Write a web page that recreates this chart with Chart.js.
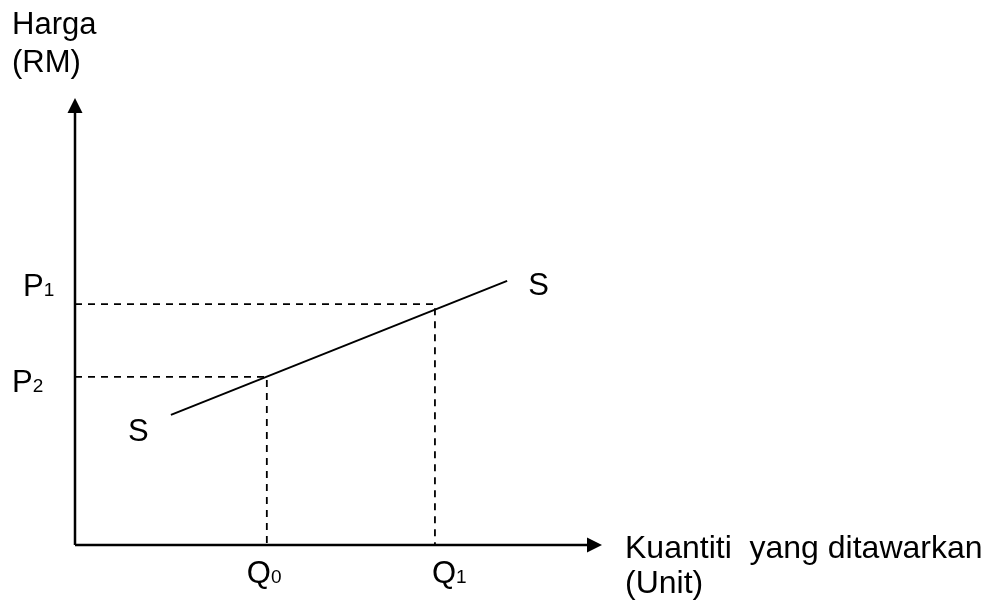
<!DOCTYPE html>
<html>
<head>
<meta charset="utf-8">
<title>Keluk penawaran</title>
<script src="https://cdn.jsdelivr.net/npm/chart.js@4/dist/chart.umd.min.js"></script>
<style>
  html, body { margin: 0; padding: 0; background: #fff; }
  #wrap { width: 983px; height: 604px; position: relative; }
</style>
</head>
<body>
<div id="wrap"><canvas id="supplyChart"></canvas></div>
<script>
// Values (axis units 0..10)
const quantityLabels = [['Q', '0'], ['Q', '1']];
const quantities = [3.64, 6.83];
const priceLabels = [['P', '2'], ['P', '1']];
const prices = [3.76, 5.39];
const supplyX = [1.82, 8.2];
const supplyY = [2.91, 5.91];
const yTitle = ['Harga', '(RM)'];
const xTitle = ['Kuantiti  yang ditawarkan', '(Unit)'];

const FONT = '"Liberation Sans", Arial, sans-serif';

// dashed guide lines: from the y axis to the curve, then down to the x axis
const guides = quantities.map((q, i) => ({
    label: 'guide ' + i,
    data: [{ x: 0, y: prices[i] }, { x: q, y: prices[i] }, { x: q, y: 0 }],
    showLine: true,
    borderColor: '#000',
    borderWidth: 1.8,
    borderDash: [7, 6],
    pointRadius: 0,
    fill: false
}));

// axes with arrow heads, plus all the text
const sketchPlugin = {
    id: 'sketch',
    afterDatasetsDraw(chart) {
        const { ctx, chartArea: a, scales } = chart;
        const xs = scales.x, ys = scales.y;
        const x0 = xs.getPixelForValue(0);
        const y0 = ys.getPixelForValue(0);

        ctx.save();
        ctx.strokeStyle = '#000';
        ctx.fillStyle = '#000';
        ctx.lineWidth = 2.5;
        ctx.beginPath();
        ctx.moveTo(x0, y0);
        ctx.lineTo(x0, a.top + 10);
        ctx.moveTo(x0, y0);
        ctx.lineTo(a.right - 10, y0);
        ctx.stroke();

        // arrow heads
        ctx.beginPath();
        ctx.moveTo(x0, a.top);
        ctx.lineTo(x0 - 7.5, a.top + 15);
        ctx.lineTo(x0 + 7.5, a.top + 15);
        ctx.closePath();
        ctx.fill();
        ctx.beginPath();
        ctx.moveTo(a.right, y0);
        ctx.lineTo(a.right - 15, y0 - 7.5);
        ctx.lineTo(a.right - 15, y0 + 7.5);
        ctx.closePath();
        ctx.fill();

        ctx.textBaseline = 'alphabetic';
        ctx.textAlign = 'left';

        const sub = (parts, x, y) => {
            ctx.font = '31px ' + FONT;
            ctx.fillText(parts[0], x, y);
            const w = ctx.measureText(parts[0]).width;
            ctx.font = '19px ' + FONT;
            ctx.fillText(parts[1], x + w, y);
        };

        // price labels (P2 lower, P1 upper)
        const pOffsets = [[12, 15], [23, -8]];
        prices.forEach((p, i) => {
            sub(priceLabels[i], pOffsets[i][0], ys.getPixelForValue(p) + pOffsets[i][1]);
        });

        // quantity labels
        const qOffsets = [-20, -3];
        quantities.forEach((q, i) => {
            sub(quantityLabels[i], xs.getPixelForValue(q) + qOffsets[i], y0 + 38);
        });

        // S labels at both ends of the curve
        ctx.font = '31px ' + FONT;
        ctx.fillText('S', xs.getPixelForValue(supplyX[0]) - 43, ys.getPixelForValue(supplyY[0]) + 26);
        ctx.fillText('S', xs.getPixelForValue(supplyX[1]) + 21, ys.getPixelForValue(supplyY[1]) + 14);

        // axis titles
        ctx.fillText(yTitle[0], 12, 34);
        ctx.fillText(yTitle[1], 12, 72);
        ctx.font = '32px ' + FONT;
        ctx.fillText(xTitle[0], a.right + 23, y0 + 13);
        ctx.fillText(xTitle[1], a.right + 23, y0 + 48);
        ctx.restore();
    }
};

new Chart(document.getElementById('supplyChart'), {
    type: 'scatter',
    data: {
        datasets: [
            {
                label: 'S',
                data: supplyX.map((x, i) => ({ x: x, y: supplyY[i] })),
                showLine: true,
                borderColor: '#000',
                borderWidth: 2,
                pointRadius: 0,
                fill: false
            },
            ...guides
        ]
    },
    options: {
        responsive: true,
        maintainAspectRatio: false,
        animation: false,
        layout: {
            padding: { left: 75, top: 98, right: 381, bottom: 59 }
        },
        scales: {
            x: { type: 'linear', min: 0, max: 10, display: false },
            y: { type: 'linear', min: 0, max: 10, display: false }
        },
        plugins: {
            legend: { display: false },
            tooltip: { enabled: false }
        }
    },
    plugins: [sketchPlugin]
});
</script>
</body>
</html>
